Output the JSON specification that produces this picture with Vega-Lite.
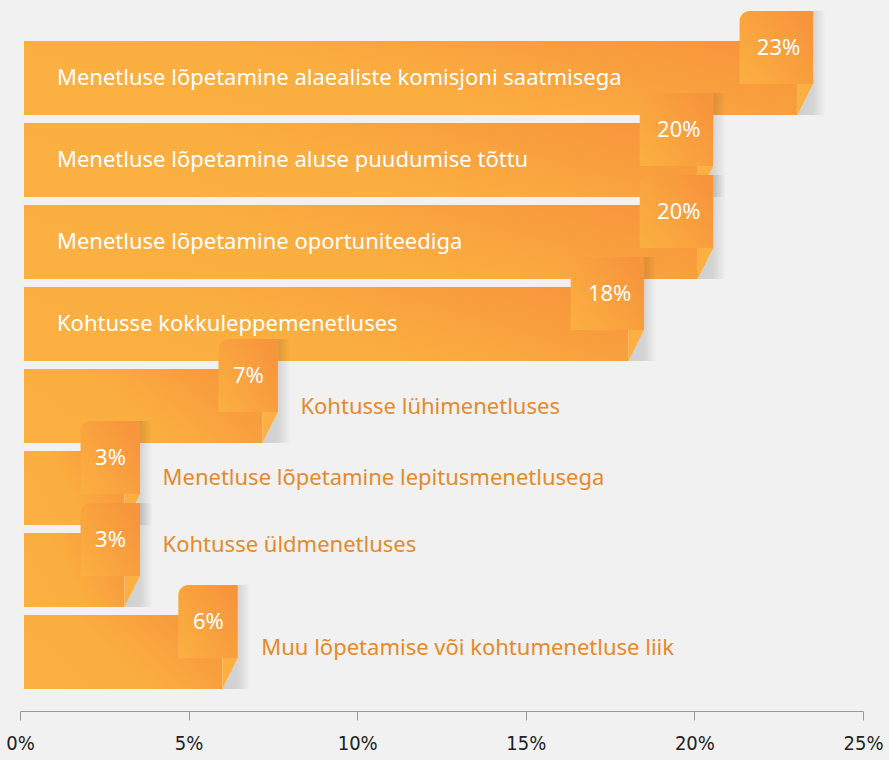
{
  "$schema": "https://vega.github.io/schema/vega-lite/v6.json",
  "autosize": "none",
  "width": 843,
  "height": 656,
  "padding": {"left": 20, "top": 37, "right": 26, "bottom": 67},
  "background": "#f1f1f1",
  "config": {"view": {"stroke": null}},
  "data": {
    "values": [
      {"cat": "Menetluse lõpetamine alaealiste komisjoni saatmisega", "value": 0.2306},
      {"cat": "Menetluse lõpetamine aluse puudumise tõttu", "value": 0.2010},
      {"cat": "Menetluse lõpetamine oportuniteediga", "value": 0.2010},
      {"cat": "Kohtusse kokkuleppemenetluses", "value": 0.1805},
      {"cat": "Kohtusse lühimenetluses", "value": 0.0719},
      {"cat": "Menetluse lõpetamine lepitusmenetlusega", "value": 0.0310},
      {"cat": "Kohtusse üldmenetluses", "value": 0.0310},
      {"cat": "Muu lõpetamise või kohtumenetluse liik", "value": 0.0600}
    ]
  },
  "encoding": {
    "y": {
      "field": "cat",
      "type": "nominal",
      "sort": null,
      "scale": {"paddingInner": 0.0976, "paddingOuter": 0.0488},
      "axis": null
    }
  },
  "layer": [
    {
      "mark": {
        "type": "bar",
        "x2Offset": 4,
        "color": {
          "gradient": "linear",
          "x1": 0, "y1": 0.6, "x2": 1, "y2": 0.2,
          "stops": [
            {"offset": 0, "color": "#fbb041"},
            {"offset": 0.4, "color": "#fbae40"},
            {"offset": 1, "color": "#f7953c"}
          ]
        }
      },
      "encoding": {
        "x": {
          "field": "value",
          "type": "quantitative",
          "scale": {"domain": [0, 0.25], "nice": false},
          "axis": {
            "values": [0, 0.05, 0.1, 0.15, 0.2, 0.25],
            "format": ".0%",
            "title": null,
            "grid": false,
            "offset": 18,
            "domainColor": "#9a9a9a",
            "tickColor": "#9a9a9a",
            "tickSize": 9,
            "labelFlush": false,
            "labelFontSize": 20,
            "labelFont": "Liberation Sans Narrow, DejaVu Sans Condensed, sans-serif",
            "labelColor": "#222222",
            "labelPadding": 13
          }
        },
        "x2": {"datum": 0}
      }
    },
    {
      "mark": {
        "type": "point",
        "shape": "M15.5,-67L28,-67L28,37L0,37L15.5,6Z",
        "size": 4,
        "filled": true,
        "opacity": 1,
        "strokeWidth": 0,
        "fill": {
          "gradient": "linear",
          "x1": 0, "y1": 0, "x2": 1, "y2": 0,
          "stops": [
            {"offset": 0, "color": "rgba(0,0,0,0.14)"},
            {"offset": 0.55, "color": "rgba(0,0,0,0.12)"},
            {"offset": 1, "color": "rgba(0,0,0,0)"}
          ]
        }
      },
      "encoding": {"x": {"field": "value", "type": "quantitative"}}
    },
    {
      "mark": {
        "type": "point",
        "shape": "M0,6L15.5,6L0,37Z",
        "size": 4,
        "filled": true,
        "opacity": 1,
        "strokeWidth": 0,
        "fill": "#fbb041"
      },
      "encoding": {"x": {"field": "value", "type": "quantitative"}}
    },
    {
      "transform": [{"filter": "datum.value >= 0.1"}],
      "mark": {
        "type": "bar",
        "height": 73,
        "yOffset": -30.5,
        "xOffset": -58,
        "x2Offset": 15.5,
        "cornerRadiusTopLeft": 10,
        "color": {
          "gradient": "linear",
          "x1": 0, "y1": 1, "x2": 1, "y2": 0.3,
          "stops": [
            {"offset": 0, "color": "#fbb041"},
            {"offset": 1, "color": "#f7953c"}
          ]
        }
      },
      "encoding": {
        "x": {"field": "value", "type": "quantitative"},
        "x2": {"field": "value"}
      }
    },
    {
      "transform": [{"filter": "datum.value < 0.1"}],
      "mark": {
        "type": "bar",
        "height": 73,
        "yOffset": -30.5,
        "xOffset": -44,
        "x2Offset": 15.5,
        "cornerRadiusTopLeft": 10,
        "color": {
          "gradient": "linear",
          "x1": 0, "y1": 1, "x2": 1, "y2": 0.3,
          "stops": [
            {"offset": 0, "color": "#fbb041"},
            {"offset": 1, "color": "#f7953c"}
          ]
        }
      },
      "encoding": {
        "x": {"field": "value", "type": "quantitative"},
        "x2": {"field": "value"}
      }
    },
    {
      "transform": [{"filter": "datum.value >= 0.1"}],
      "mark": {
        "type": "text",
        "align": "center",
        "baseline": "middle",
        "dx": -19,
        "dy": -30,
        "font": "Noto Sans",
        "fontSize": 22,
        "color": "#ffffff"
      },
      "encoding": {
        "x": {"field": "value", "type": "quantitative"},
        "text": {"field": "value", "type": "quantitative", "format": ".0%"}
      }
    },
    {
      "transform": [{"filter": "datum.value < 0.1"}],
      "mark": {
        "type": "text",
        "align": "center",
        "baseline": "middle",
        "dx": -14,
        "dy": -30,
        "font": "Noto Sans",
        "fontSize": 22,
        "color": "#ffffff"
      },
      "encoding": {
        "x": {"field": "value", "type": "quantitative"},
        "text": {"field": "value", "type": "quantitative", "format": ".0%"}
      }
    },
    {
      "transform": [{"filter": "datum.value >= 0.1"}],
      "mark": {
        "type": "text",
        "align": "left",
        "baseline": "middle",
        "dx": 37,
        "dy": 0,
        "font": "Noto Sans",
        "fontSize": 22,
        "color": "#ffffff"
      },
      "encoding": {
        "x": {"datum": 0, "type": "quantitative"},
        "text": {"field": "cat", "type": "nominal"}
      }
    },
    {
      "transform": [{"filter": "datum.cat == 'Kohtusse lühimenetluses'"}],
      "mark": {
        "type": "text", "align": "left", "baseline": "middle",
        "dx": 38, "dy": 1, "font": "Noto Sans", "fontSize": 22, "color": "#e5892b"
      },
      "encoding": {
        "x": {"field": "value", "type": "quantitative"},
        "text": {"field": "cat", "type": "nominal"}
      }
    },
    {
      "transform": [{"filter": "datum.cat == 'Menetluse lõpetamine lepitusmenetlusega'"}],
      "mark": {
        "type": "text", "align": "left", "baseline": "middle",
        "dx": 38, "dy": -10, "font": "Noto Sans", "fontSize": 22, "color": "#e5892b"
      },
      "encoding": {
        "x": {"field": "value", "type": "quantitative"},
        "text": {"field": "cat", "type": "nominal"}
      }
    },
    {
      "transform": [{"filter": "datum.cat == 'Kohtusse üldmenetluses'"}],
      "mark": {
        "type": "text", "align": "left", "baseline": "middle",
        "dx": 38, "dy": -25, "font": "Noto Sans", "fontSize": 22, "color": "#e5892b"
      },
      "encoding": {
        "x": {"field": "value", "type": "quantitative"},
        "text": {"field": "cat", "type": "nominal"}
      }
    },
    {
      "transform": [{"filter": "datum.cat == 'Muu lõpetamise või kohtumenetluse liik'"}],
      "mark": {
        "type": "text", "align": "left", "baseline": "middle",
        "dx": 39, "dy": -4, "font": "Noto Sans", "fontSize": 22, "color": "#e5892b"
      },
      "encoding": {
        "x": {"field": "value", "type": "quantitative"},
        "text": {"field": "cat", "type": "nominal"}
      }
    }
  ]
}
